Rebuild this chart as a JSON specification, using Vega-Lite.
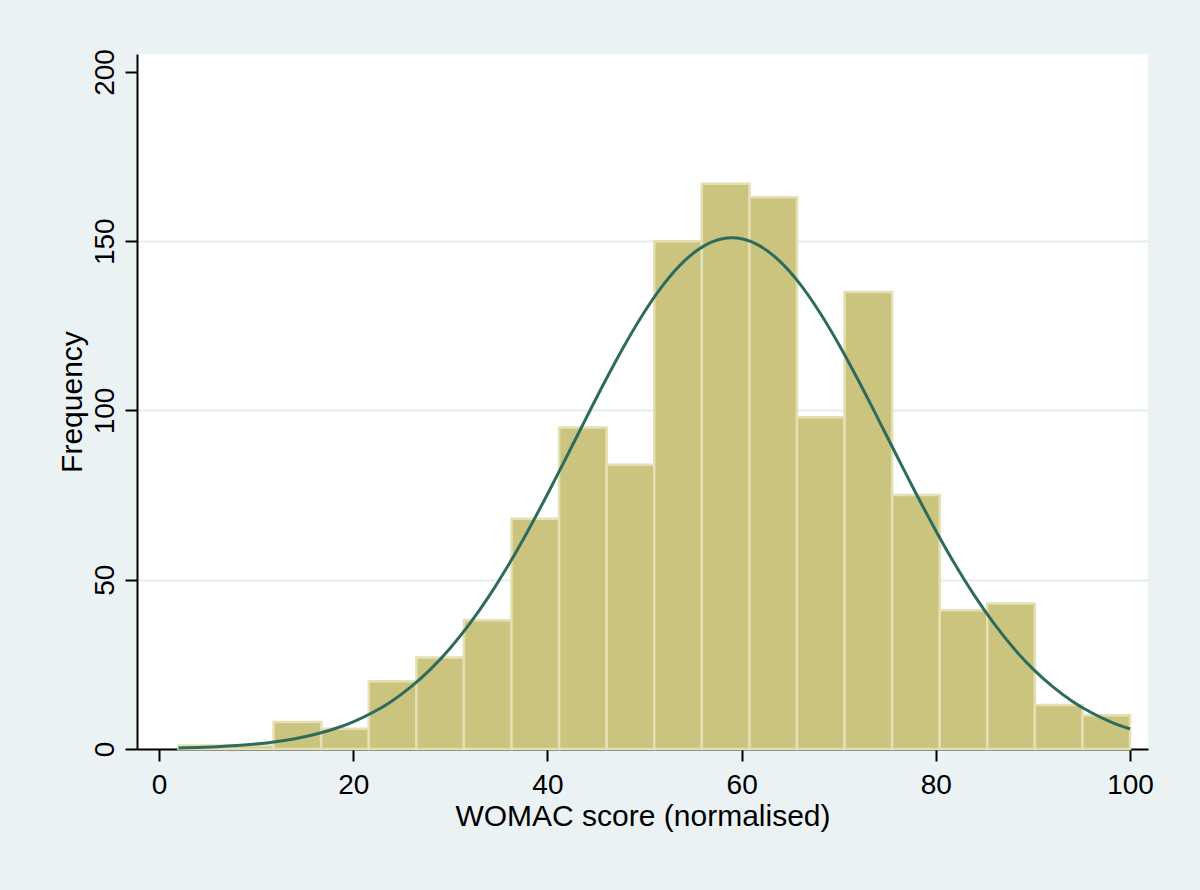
{
  "$schema": "https://vega.github.io/schema/vega-lite/v6.json",
  "width": 1011,
  "height": 695,
  "autosize": {"type": "none"},
  "padding": {"left": 137, "top": 54, "right": 52, "bottom": 141},
  "background": "#EAF2F3",
  "config": {
    "view": {"fill": "white", "stroke": null},
    "font": "Liberation Sans",
    "axis": {
      "domainColor": "black",
      "domainWidth": 2,
      "tickColor": "black",
      "tickWidth": 2,
      "tickSize": 12,
      "labelColor": "black",
      "titleColor": "black",
      "labelFont": "Liberation Sans",
      "titleFont": "Liberation Sans",
      "labelFontSize": 28,
      "titleFontSize": 30,
      "titleFontWeight": "normal"
    }
  },
  "datasets": {
    "bins": [
      {"bin_start": 2.0, "bin_end": 6.9, "count": 1},
      {"bin_start": 6.9, "bin_end": 11.8, "count": 1},
      {"bin_start": 11.8, "bin_end": 16.7, "count": 8},
      {"bin_start": 16.7, "bin_end": 21.6, "count": 6},
      {"bin_start": 21.6, "bin_end": 26.5, "count": 20},
      {"bin_start": 26.5, "bin_end": 31.4, "count": 27},
      {"bin_start": 31.4, "bin_end": 36.3, "count": 38},
      {"bin_start": 36.3, "bin_end": 41.2, "count": 68},
      {"bin_start": 41.2, "bin_end": 46.1, "count": 95},
      {"bin_start": 46.1, "bin_end": 51.0, "count": 84},
      {"bin_start": 51.0, "bin_end": 55.9, "count": 150},
      {"bin_start": 55.9, "bin_end": 60.8, "count": 167},
      {"bin_start": 60.8, "bin_end": 65.7, "count": 163},
      {"bin_start": 65.7, "bin_end": 70.6, "count": 98},
      {"bin_start": 70.6, "bin_end": 75.5, "count": 135},
      {"bin_start": 75.5, "bin_end": 80.4, "count": 75},
      {"bin_start": 80.4, "bin_end": 85.3, "count": 41},
      {"bin_start": 85.3, "bin_end": 90.2, "count": 43},
      {"bin_start": 90.2, "bin_end": 95.1, "count": 13},
      {"bin_start": 95.1, "bin_end": 100.0, "count": 10}
    ],
    "curve": [
      {"score": 2, "freq": 0.29}, {"score": 4, "freq": 0.44}, {"score": 6, "freq": 0.67},
      {"score": 8, "freq": 1.0}, {"score": 10, "freq": 1.47}, {"score": 12, "freq": 2.13},
      {"score": 14, "freq": 3.04}, {"score": 16, "freq": 4.27}, {"score": 18, "freq": 5.9},
      {"score": 20, "freq": 8.03}, {"score": 22, "freq": 10.77}, {"score": 24, "freq": 14.21},
      {"score": 26, "freq": 18.48}, {"score": 28, "freq": 23.65}, {"score": 30, "freq": 29.82},
      {"score": 32, "freq": 37.01}, {"score": 34, "freq": 45.22}, {"score": 36, "freq": 54.42},
      {"score": 38, "freq": 64.49}, {"score": 40, "freq": 75.26}, {"score": 42, "freq": 86.48},
      {"score": 44, "freq": 97.83}, {"score": 46, "freq": 108.99}, {"score": 48, "freq": 119.56},
      {"score": 50, "freq": 129.15}, {"score": 52, "freq": 137.38}, {"score": 54, "freq": 143.89},
      {"score": 56, "freq": 148.4}, {"score": 58, "freq": 150.71}, {"score": 59, "freq": 151.0},
      {"score": 60, "freq": 150.71}, {"score": 62, "freq": 148.4}, {"score": 64, "freq": 143.89},
      {"score": 66, "freq": 137.38}, {"score": 68, "freq": 129.15}, {"score": 70, "freq": 119.56},
      {"score": 72, "freq": 108.99}, {"score": 74, "freq": 97.83}, {"score": 76, "freq": 86.48},
      {"score": 78, "freq": 75.26}, {"score": 80, "freq": 64.49}, {"score": 82, "freq": 54.42},
      {"score": 84, "freq": 45.22}, {"score": 86, "freq": 37.01}, {"score": 88, "freq": 29.82},
      {"score": 90, "freq": 23.65}, {"score": 92, "freq": 18.48}, {"score": 94, "freq": 14.21},
      {"score": 96, "freq": 10.77}, {"score": 98, "freq": 8.03}, {"score": 100, "freq": 5.9}
    ]
  },
  "layer": [
    {
      "data": {"name": "bins"},
      "mark": {"type": "rect", "fill": "#CBC47E", "stroke": "#E4E0B4", "strokeWidth": 2.5},
      "encoding": {
        "x": {
          "field": "bin_start", "type": "quantitative",
          "scale": {"domain": [-2.27, 101.85], "nice": false, "zero": false},
          "axis": {
            "values": [0, 20, 40, 60, 80, 100],
            "title": "WOMAC score (normalised)",
            "labelPadding": 10,
            "titlePadding": 2,
            "grid": false
          }
        },
        "x2": {"field": "bin_end"},
        "y": {
          "field": "count", "type": "quantitative",
          "scale": {"domain": [0, 205.3], "nice": false},
          "axis": {
            "values": [0, 50, 100, 150, 200],
            "title": "Frequency",
            "labelAngle": -90,
            "labelAlign": "center",
            "labelBaseline": "bottom",
            "labelPadding": 6,
            "titlePadding": 4,
            "grid": true,
            "gridColor": "#E4EEF0",
            "gridWidth": 2,
            "gridOpacity": {"condition": {"test": "datum.value == 0 || datum.value == 200", "value": 0}, "value": 1}
          }
        },
        "y2": {"datum": 0}
      }
    },
    {
      "data": {"name": "curve"},
      "mark": {"type": "line", "color": "#2E6B5E", "strokeWidth": 3, "interpolate": "monotone"},
      "encoding": {
        "x": {"field": "score", "type": "quantitative"},
        "y": {"field": "freq", "type": "quantitative"}
      }
    }
  ]
}
